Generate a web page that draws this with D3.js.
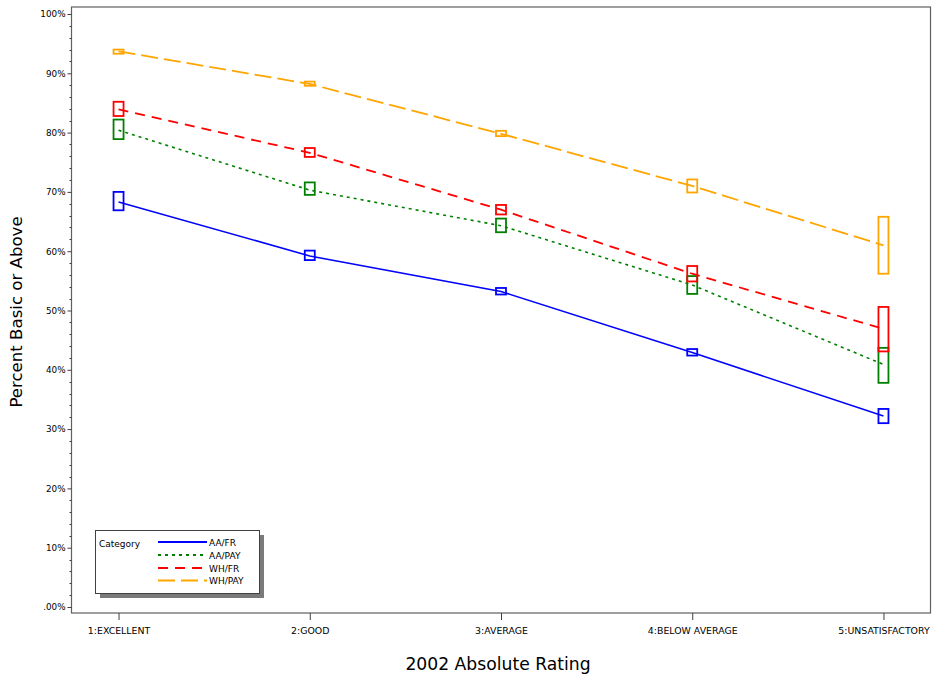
<!DOCTYPE html>
<html>
<head>
<meta charset="utf-8">
<script src="https://cdn.jsdelivr.net/npm/d3@7"></script>
<style>
  html, body { margin: 0; padding: 0; background: #fff; }
  svg { display: block; }
  text { font-family: "DejaVu Sans", Verdana, sans-serif; fill: #000; }
</style>
</head>
<body>
<svg id="chart" width="935" height="681"></svg>
<script>
// Rating categories along the x axis
const categories = ["1:EXCELLENT", "2:GOOD", "3:AVERAGE", "4:BELOW AVERAGE", "5:UNSATISFACTORY"];

// Series names (legend order)
const seriesNames = ["AA/FR", "AA/PAY", "WH/FR", "WH/PAY"];

// Mean percent basic or above, per series and rating
const aaFrMean  = [0.683, 0.592, 0.532, 0.429, 0.322];
const aaPayMean = [0.804, 0.703, 0.643, 0.543, 0.409];
const whFrMean  = [0.839, 0.766, 0.670, 0.562, 0.469];
const whPayMean = [0.937, 0.882, 0.798, 0.710, 0.610];

// Lower / upper bounds of each range box
const aaFrLow   = [0.669, 0.585, 0.527, 0.424, 0.310];
const aaFrHigh  = [0.700, 0.601, 0.538, 0.435, 0.334];
const aaPayLow  = [0.789, 0.695, 0.632, 0.528, 0.378];
const aaPayHigh = [0.822, 0.716, 0.655, 0.558, 0.437];
const whFrLow   = [0.828, 0.759, 0.662, 0.549, 0.431];
const whFrHigh  = [0.852, 0.774, 0.678, 0.575, 0.506];
const whPayLow  = [0.933, 0.879, 0.794, 0.699, 0.562];
const whPayHigh = [0.940, 0.886, 0.803, 0.721, 0.658];

// Y axis tick labels
const yTickValues = [0, 0.1, 0.2, 0.3, 0.4, 0.5, 0.6, 0.7, 0.8, 0.9, 1.0];
const yTickLabels = [".00%", "10%", "20%", "30%", "40%", "50%", "60%", "70%", "80%", "90%", "100%"];

const series = [
  { name: seriesNames[0], mean: aaFrMean,  low: aaFrLow,  high: aaFrHigh,  color: "#0000ff", dash: null,    width: 1.6 },
  { name: seriesNames[1], mean: aaPayMean, low: aaPayLow, high: aaPayHigh, color: "#008000", dash: "3,4",   width: 1.6 },
  { name: seriesNames[2], mean: whFrMean,  low: whFrLow,  high: whFrHigh,  color: "#ff0000", dash: "10,7",  width: 1.8 },
  { name: seriesNames[3], mean: whPayMean, low: whPayLow, high: whPayHigh, color: "#ffa500", dash: "17,6",  width: 1.8 }
];

const svg = d3.select("#chart");

const frame = { left: 71.5, right: 930.5, top: 7, bottom: 613 };

const x = d3.scalePoint()
  .domain(categories)
  .range([frame.left, frame.right])
  .padding(0.246);

const y = d3.scaleLinear()
  .domain([0, 1])
  .range([607, 14]);

// Plot frame
svg.append("rect")
  .attr("x", frame.left).attr("y", frame.top)
  .attr("width", frame.right - frame.left)
  .attr("height", frame.bottom - frame.top)
  .attr("fill", "#fff")
  .attr("stroke", "#606060")
  .attr("stroke-width", 1.2);

// Y axis: major ticks with labels, minor ticks every 2%
const yAxis = d3.axisLeft(y)
  .tickValues(yTickValues)
  .tickFormat((d, i) => yTickLabels[i])
  .tickSize(4)
  .tickPadding(2);

const yg = svg.append("g")
  .attr("transform", `translate(${frame.left},0)`)
  .call(yAxis);
yg.select(".domain").remove();
yg.selectAll("text").style("font-size", "8.8px").style("font-family", "DejaVu Sans");
yg.selectAll("line").attr("stroke", "#404040");

const minorVals = d3.range(0, 1.0001, 0.02).filter(v => Math.abs(v * 10 - Math.round(v * 10)) > 1e-6);
svg.append("g").selectAll("line")
  .data(minorVals)
  .join("line")
  .attr("x1", frame.left - 2).attr("x2", frame.left)
  .attr("y1", d => Math.round(y(d)) + 0.5).attr("y2", d => Math.round(y(d)) + 0.5)
  .attr("stroke", "#404040");

// X axis
const xAxis = d3.axisBottom(x).tickSize(7).tickPadding(7);
const xg = svg.append("g")
  .attr("transform", `translate(0,${frame.bottom})`)
  .call(xAxis);
xg.select(".domain").remove();
xg.selectAll("text").style("font-size", "9.4px").style("font-family", "DejaVu Sans");
xg.selectAll("line").attr("stroke", "#404040");

// Axis titles
svg.append("text")
  .attr("transform", "translate(22,312) rotate(-90)")
  .attr("text-anchor", "middle")
  .style("font-size", "16.6px")
  .text("Percent Basic or Above");

svg.append("text")
  .attr("x", 498).attr("y", 670)
  .attr("text-anchor", "middle")
  .style("font-size", "17.2px")
  .text("2002 Absolute Rating");

// Series lines through the means
const line = d3.line()
  .x((d, i) => x(categories[i]))
  .y(d => y(d));

const boxW = 10;
series.forEach(s => {
  svg.append("path")
    .datum(s.mean)
    .attr("d", line)
    .attr("fill", "none")
    .attr("stroke", s.color)
    .attr("stroke-width", s.width)
    .attr("stroke-dasharray", s.dash);
});

// Range boxes
series.forEach(s => {
  svg.append("g").selectAll("rect")
    .data(categories)
    .join("rect")
    .attr("x", c => x(c) - boxW / 2)
    .attr("y", (c, i) => y(s.high[i]))
    .attr("width", boxW)
    .attr("height", (c, i) => y(s.low[i]) - y(s.high[i]))
    .attr("fill", "none")
    .attr("stroke", s.color)
    .attr("stroke-width", 1.8);
});

// Legend with drop shadow
const lg = svg.append("g");
lg.append("rect")
  .attr("x", 100).attr("y", 535).attr("width", 164).attr("height", 63)
  .attr("fill", "#7a7a7a");
lg.append("rect")
  .attr("x", 95.5).attr("y", 530.5).attr("width", 164).attr("height", 63)
  .attr("fill", "#fff").attr("stroke", "#404040").attr("stroke-width", 1);
lg.append("text")
  .attr("x", 99).attr("y", 547)
  .style("font-size", "9px")
  .text("Category");

const rowY = [542, 555, 568, 580.5];
series.forEach((s, i) => {
  lg.append("line")
    .attr("x1", 158).attr("x2", 207)
    .attr("y1", rowY[i]).attr("y2", rowY[i])
    .attr("stroke", s.color)
    .attr("stroke-width", s.width + 0.4)
    .attr("stroke-dasharray", s.dash);
  lg.append("text")
    .attr("x", 209).attr("y", rowY[i] + 3.5)
    .style("font-size", "9px")
    .text(s.name);
});
</script>
</body>
</html>
